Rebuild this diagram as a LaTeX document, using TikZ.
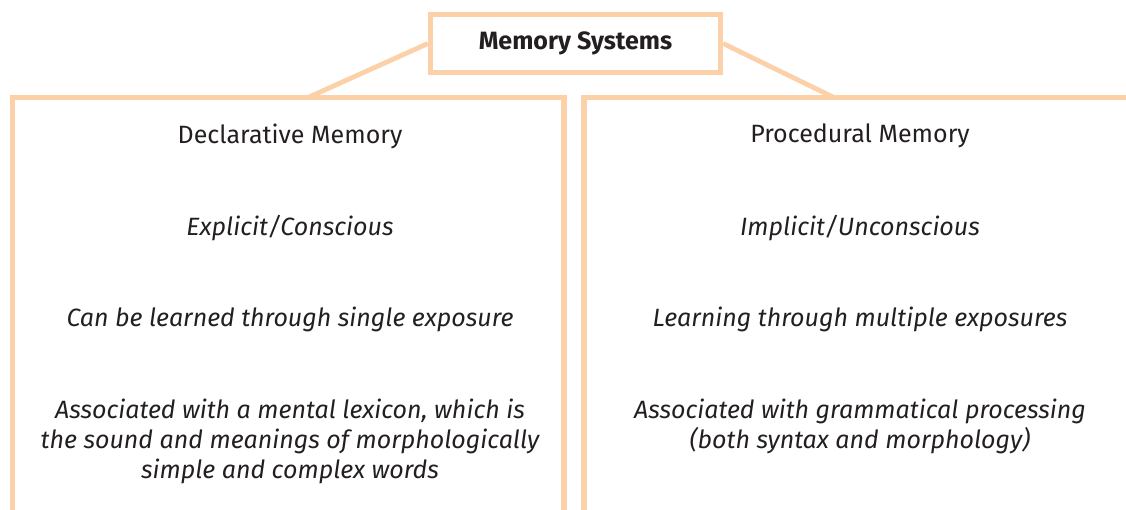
\documentclass[tikz,border=0pt]{standalone}
\usepackage{fontspec}
\setmainfont{Fira Sans}
\usepackage{xcolor}
\definecolor{mem_peach}{RGB}{252, 208, 168}
\definecolor{mem_text}{RGB}{35, 31, 32}
\usetikzlibrary{positioning}

\begin{document}
\begin{tikzpicture}[x=0.025cm, y=-0.025cm,
    sysbox/.style={draw=mem_peach, line width=3.6pt, fill=white,
                   minimum width=7.25cm, minimum height=1.45cm, inner sep=0pt,
                   font=\bfseries\fontsize{17.8}{21}\selectfont, text=mem_text},
    frame/.style={draw=mem_peach, line width=3.6pt, line join=miter},
    link/.style={draw=mem_peach, line width=3.4pt},
    head/.style={font=\fontsize{17.8}{21.3}\selectfont, text=mem_text},
    item/.style={font=\itshape\fontsize{17.8}{21.3}\selectfont, text=mem_text,
                 align=center},
  ]
  \useasboundingbox (0,0) rectangle (1126,509);
  \clip (0,0) rectangle (1126,509);

  % top box
  \node[sysbox] (sys) at (575.5, 43.5) {Memory Systems};

  % where the links meet the two columns
  \coordinate (declTop) at (308, 97.5);
  \coordinate (procTop) at (834, 97.5);
  \draw[link] (sys.west) -- (declTop);
  \draw[link] (sys.east) -- (procTop);

  % the two columns, open at the bottom
  \draw[frame] (12.5, 540) -- (12.5, 97.5) -- (564, 97.5) -- (564, 540);
  \draw[frame] (584, 540) -- (584, 97.5) -- (1140, 97.5);

  % left column
  \node[head] (decl)  at (290, 136) {Declarative Memory};
  \node[item] (decl1) at (290, 228) {Explicit/Conscious};
  \node[item] (decl2) at (290, 319) {Can be learned through single exposure};
  \node[item] (decl3) at (290, 441) {Associated with a mental lexicon, which is\\
    the sound and meanings of morphologically\\simple and complex words};

  % right column
  \node[head] (proc)  at (860, 136) {Procedural Memory};
  \node[item] (proc1) at (860, 228) {Implicit/Unconscious};
  \node[item] (proc2) at (860, 319) {Learning through multiple exposures};
  \node[item] (proc3) at (860, 426) {Associated with grammatical processing\\
    (both syntax and morphology)};
\end{tikzpicture}
\end{document}
